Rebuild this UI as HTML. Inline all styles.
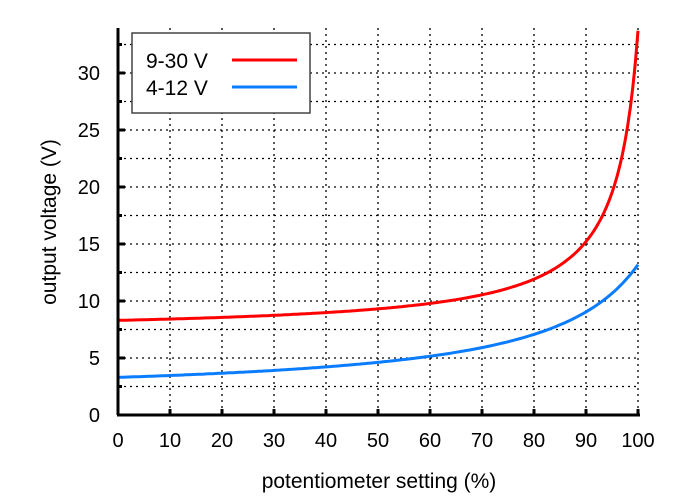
<!DOCTYPE html>
<html><head><style>body{margin:0;background:#fff}svg{display:block;font-family:"Liberation Sans",sans-serif}</style></head>
<body>
<svg id="s" width="700" height="500" xmlns="http://www.w3.org/2000/svg">
<g id="grid" stroke="#000" stroke-width="1.3" stroke-dasharray="2,4"></g>
<path id="red" fill="none" stroke="#f00" stroke-width="3"/>
<path id="blue" fill="none" stroke="#0a7cff" stroke-width="3"/>
<g stroke="#000" stroke-width="3"><line x1="118" y1="28" x2="118" y2="415"/><line x1="117" y1="415" x2="640" y2="415"/></g>
<g id="ticks" stroke="#000" stroke-width="3"></g>
<g id="lab" font-size="20" fill="#000"></g>
<text x="379" y="488" font-size="21" text-anchor="middle">potentiometer setting (%)</text>
<text transform="translate(56,222) rotate(-90)" font-size="21" text-anchor="middle">output voltage (V)</text>
<rect x="132" y="33" width="178" height="80" fill="#fff" stroke="#444" stroke-width="1.5"/>
<text x="146" y="68" font-size="21">9-30 V</text>
<text x="146" y="95" font-size="21">4-12 V</text>
<line x1="232" y1="60" x2="297" y2="60" stroke="#f00" stroke-width="3"/>
<line x1="232" y1="87" x2="297" y2="87" stroke="#0a7cff" stroke-width="3"/>
</svg>
<script>
var ns="http://www.w3.org/2000/svg";
function X(p){return 118+p*5.2}function Y(v){return 415-v*11.4}
function el(par,t,a,txt){var e=document.createElementNS(ns,t);for(var k in a)e.setAttribute(k,a[k]);if(txt!=null)e.textContent=txt;document.getElementById(par).appendChild(e);}
for(var i=1;i<=10;i++){el("grid","line",{x1:X(i*10),y1:28,x2:X(i*10),y2:415});el("ticks","line",{x1:X(i*10),y1:415,x2:X(i*10),y2:409});}
for(var j=1;j<=13;j++){var v=j*2.5;el("grid","line",{x1:118,y1:Y(v),x2:640,y2:Y(v)});el("ticks","line",{x1:118,y1:Y(v),x2:j%2?122:125,y2:Y(v)});}
for(var i=0;i<=10;i++)el("lab","text",{x:X(i*10),y:447,"text-anchor":"middle"},i*10);
for(var j=0;j<=6;j++)el("lab","text",{x:100,y:Y(j*5)+7,"text-anchor":"end"},j*5);
function path(A,B,k){var d="";for(var i=0;i<=200;i++){var p=i/200;var v=A+B/(1-k*p);d+=(i?"L":"M")+X(p*100).toFixed(1)+","+Y(v).toFixed(1);}return d;}
document.getElementById("red").setAttribute("d",path(7.2,1.1,0.9585));
document.getElementById("blue").setAttribute("d",path(1.5,1.8,0.846));
</script>
</body></html>
